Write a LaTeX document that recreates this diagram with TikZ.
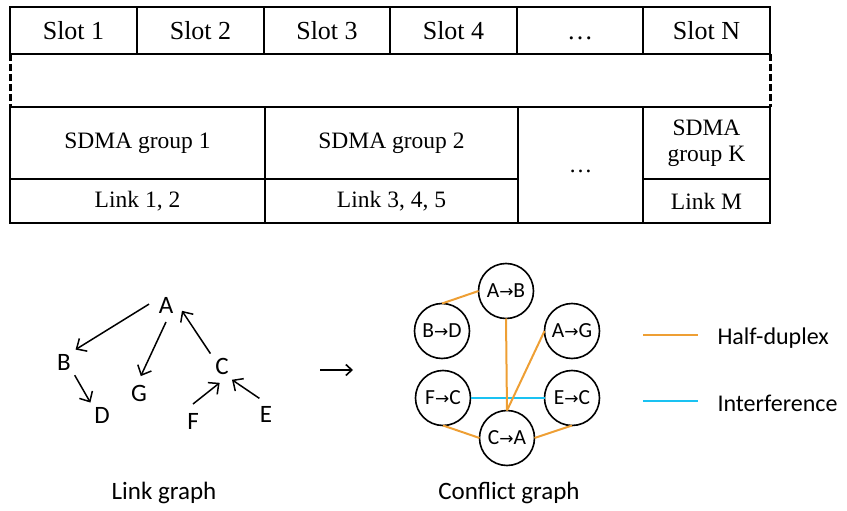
\documentclass[tikz,border=0pt]{standalone}
\usepackage{fontspec}
\setmainfont{Liberation Serif}
\newfontfamily\carl{Carlito}
\newfontfamily\dvs{DejaVu Sans}
\usetikzlibrary{arrows.meta}
\definecolor{hdorange}{HTML}{EE9F34}
\definecolor{intcyan}{HTML}{1AC2F2}
\tikzset{
  cell/.style={draw, line width=1.8pt, rectangle, inner sep=0pt, outer sep=0pt, align=center, font=\fontsize{23.5}{26}\selectfont},
  slotcell/.style={cell, minimum height=47, font=\fontsize{26}{28}\selectfont},
  letter/.style={circle, inner sep=0pt, outer sep=0pt, minimum size=34, font=\carl\fontsize{25}{28}\selectfont},
  cnode/.style={circle, draw, line width=1.6pt, inner sep=0pt, outer sep=0pt, minimum size=55, font=\carl\fontsize{21.5}{24}\selectfont},
  larrow/.style={line width=1.5pt, -{Straight Barb[length=8,width=15,line width=1.5pt]}},
  hd/.style={hdorange, line width=2pt},
  intf/.style={intcyan, line width=2pt},
  caption/.style={font=\carl\fontsize{25}{28}\selectfont},
  legtext/.style={anchor=west, font=\carl\fontsize{24}{27}\selectfont},
  dashedge/.style={line width=3pt, dash pattern=on 7pt off 3pt},
}
\newcommand{\ar}{{\dvs\fontsize{17}{19}\selectfont →}}
\begin{document}
\begin{tikzpicture}[x=1pt,y=-1pt]
\useasboundingbox (0,0) rectangle (847,511);
% top row of slots
\node[slotcell, minimum width=127] (s1) at (73.5,30.5) {Slot 1};
\node[slotcell, minimum width=127] (s2) at (200.5,30.5) {Slot 2};
\node[slotcell, minimum width=126] (s3) at (327,30.5) {Slot 3};
\node[slotcell, minimum width=127] (s4) at (453.5,30.5) {Slot 4};
\node[slotcell, minimum width=126] (s5) at (580,30.5) {\vphantom{Slot}…};
\node[slotcell, minimum width=127] (sn) at (706.5,30.5) {Slot N};
% bottom table
\node[cell, minimum width=255, minimum height=72] (g1) at (137.5,143) {SDMA group 1};
\node[cell, minimum width=253, minimum height=72] (g2) at (391.5,143) {SDMA group 2};
\node[cell, minimum width=125, minimum height=116] (gd) at (580.5,165) {\vphantom{Slot}…};
\node[cell, minimum width=127, minimum height=72] (gk) at (706.5,143) {SDMA\\group K};
\node[cell, minimum width=255, minimum height=44] (l1) at (137.5,201) {Link 1, 2};
\node[cell, minimum width=253, minimum height=44] (l2) at (391.5,201) {Link 3, 4, 5};
\node[cell, minimum width=127, minimum height=44] (lm) at (706.5,201) {Link M};
\draw[dashedge] (s1.south west) -- (g1.north west);
\draw[dashedge] (sn.south east) -- (gk.north east);
% link graph
\node[letter] (A) at (166,305) {A};
\node[letter] (B) at (64,362) {B};
\node[letter] (D) at (102,415) {D};
\node[letter] (G) at (139,393) {G};
\node[letter] (C) at (222,366) {C};
\node[letter] (F) at (193,421) {F};
\node[letter] (E) at (266,414) {E};
\draw[larrow] (A.177) -- (B.47);
\draw[larrow] (A.270) -- (G.84);
\draw[larrow] (C.133) -- (A.-20);
\draw[larrow] (B.-51) -- (D.133);
\draw[larrow] (F.90) -- (C.262);
\draw[larrow] (E.113) -- (C.-54);
\node[caption] (lg) at (164,493) {Link graph};
% middle arrow
\coordinate (m1) at (320,370);
\coordinate (m2) at (353,370);
\draw[line width=1.6pt, -{Straight Barb[length=6,width=11,line width=1.6pt]}] (m1) -- (m2);
% conflict graph
\node[cnode] (AB) at (506,291) {A\ar B};
\node[cnode] (BD) at (442,331) {B\ar D};
\node[cnode] (AG) at (572,331) {A\ar G};
\node[cnode] (FC) at (443,398) {F\ar C};
\node[cnode] (EC) at (572,398) {E\ar C};
\node[cnode] (CA) at (507,438) {C\ar A};
\draw[intf] (FC.east) -- (EC.west);
\draw[hd] (AB.west) -- (BD.north);
\draw[hd] (AB.south) -- (CA.north);
\draw[hd] (AG.west) -- (CA.north);
\draw[hd] (FC.south) -- (CA.west);
\draw[hd] (EC.south) -- (CA.east);
\node[caption] (cg) at (509,493) {Conflict graph};
% legend
\coordinate (h1) at (643,335);
\coordinate (h2) at (698,335);
\coordinate (i1) at (643,401);
\coordinate (i2) at (698,401);
\draw[hd] (h1) -- (h2);
\draw[intf] (i1) -- (i2);
\node[legtext] (hdt) at (714,338) {Half-duplex};
\node[legtext] (itt) at (714,403) {Interference};
\end{tikzpicture}
\end{document}
